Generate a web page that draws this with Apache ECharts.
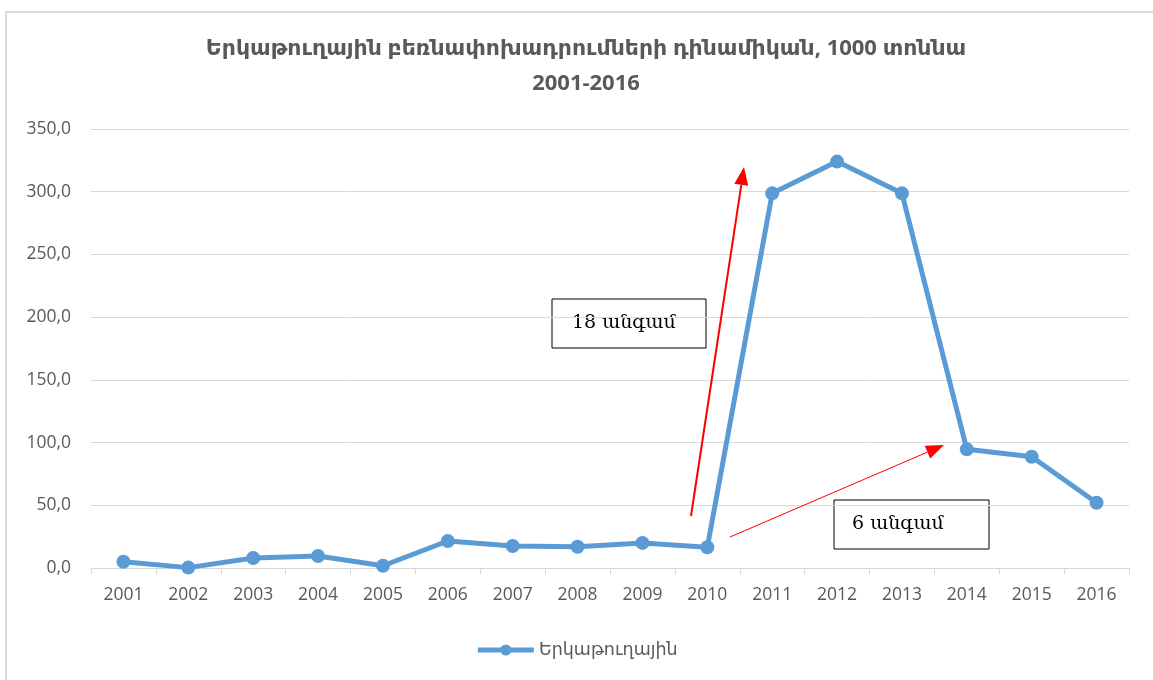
<!DOCTYPE html>
<html>
<head>
<meta charset="utf-8">
<script src="https://cdn.jsdelivr.net/npm/echarts@6/dist/echarts.min.js"></script>
<style>
html,body{margin:0;padding:0;background:#fff;}
#chart{width:1153px;height:680px;}
</style>
</head>
<body>
<div id="chart"></div>
<script>
const titleLines = ['Երկաթուղային բեռնափոխադրումների դինամիկան, 1000 տոննա', '2001-2016'];
const seriesName = 'Երկաթուղային';
const years = ['2001','2002','2003','2004','2005','2006','2007','2008','2009','2010','2011','2012','2013','2014','2015','2016'];
const values = [5.0, 0.3, 8.0, 9.6, 1.8, 21.5, 17.5, 17.0, 20.0, 16.5, 298.7, 324.0, 298.7, 94.6, 88.7, 52.0];
const yTicks = {min: 0, max: 350, interval: 50};
const notes = ['18 անգամ', '6 անգամ'];

const chart = echarts.init(document.getElementById('chart'));
const gray = '#595959';
const sansFont = '"Open Sans", "DejaVu Sans", sans-serif';

function arrow(x1, y1, x2, y2, w, headLen, headW) {
  const dx = x2 - x1, dy = y2 - y1, L = Math.hypot(dx, dy);
  const ux = dx / L, uy = dy / L, px = -uy, py = ux;
  const bx = x2 - ux * headLen, by = y2 - uy * headLen;
  return [
    {type: 'line', shape: {x1: x1, y1: y1, x2: bx, y2: by}, style: {stroke: '#ff0000', lineWidth: w}, z: 10},
    {type: 'polygon', shape: {points: [[x2, y2], [bx + px * headW, by + py * headW], [bx - px * headW, by - py * headW]]}, style: {fill: '#ff0000'}, z: 10}
  ];
}

function box(x, y, w, h, text, tx) {
  return {
    type: 'group', z: 11,
    children: [
      {type: 'rect', shape: {x: x, y: y, width: w, height: h}, style: {fill: '#fff', stroke: '#000', lineWidth: 1}},
      {type: 'text', x: x + tx, y: y + h / 2, style: {text: text, font: '19px "DejaVu Serif", serif', fill: '#000', verticalAlign: 'middle'}}
    ]
  };
}

const option = {
  animation: false,
  backgroundColor: '#fff',
  title: {
    text: titleLines.join('\n'),
    left: 581, top: 26, textAlign: 'center',
    textStyle: {fontFamily: sansFont, fontSize: 22, fontWeight: 'bold', color: gray, lineHeight: 35}
  },
  legend: {
    top: 636, left: 'center',
    itemWidth: 56, itemHeight: 14, itemGap: 6,
    data: [{name: seriesName}],
    lineStyle: {width: 5},
    textStyle: {fontFamily: sansFont, fontSize: 17.5, color: gray}
  },
  grid: {left: 91, right: 24, top: 129, bottom: 112},
  xAxis: {
    type: 'category', data: years, boundaryGap: true,
    axisLine: {lineStyle: {color: '#d9d9d9', width: 1}},
    axisTick: {show: true, length: 6, lineStyle: {color: '#d9d9d9'}},
    axisLabel: {fontFamily: sansFont, fontSize: 17.5, color: gray, margin: 18}
  },
  yAxis: {
    type: 'value', min: yTicks.min, max: yTicks.max, interval: yTicks.interval,
    axisLine: {show: false}, axisTick: {show: false},
    splitLine: {lineStyle: {color: '#d9d9d9', width: 1}},
    axisLabel: {fontFamily: sansFont, fontSize: 17.5, color: gray, margin: 20,
      formatter: v => v.toFixed(1).replace('.', ',')}
  },
  series: [{
    name: seriesName, type: 'line', data: values,
    symbol: 'circle', symbolSize: 14,
    lineStyle: {color: '#5b9bd5', width: 5},
    itemStyle: {color: '#5b9bd5'}
  }],
  graphic: [
    {type: 'polyline', shape: {points: [[6, 680], [6, 12], [1153, 12]]}, style: {stroke: '#d9d9d9', lineWidth: 2, fill: null}, z: 0},
    ...arrow(691, 516, 744, 167, 2, 18, 7),
    ...arrow(730, 537, 944, 445, 1, 18, 7),
    box(552, 299, 154, 49, notes[0], 20),
    box(834, 500, 155, 49, notes[1], 18)
  ]
};
chart.setOption(option);
</script>
</body>
</html>
